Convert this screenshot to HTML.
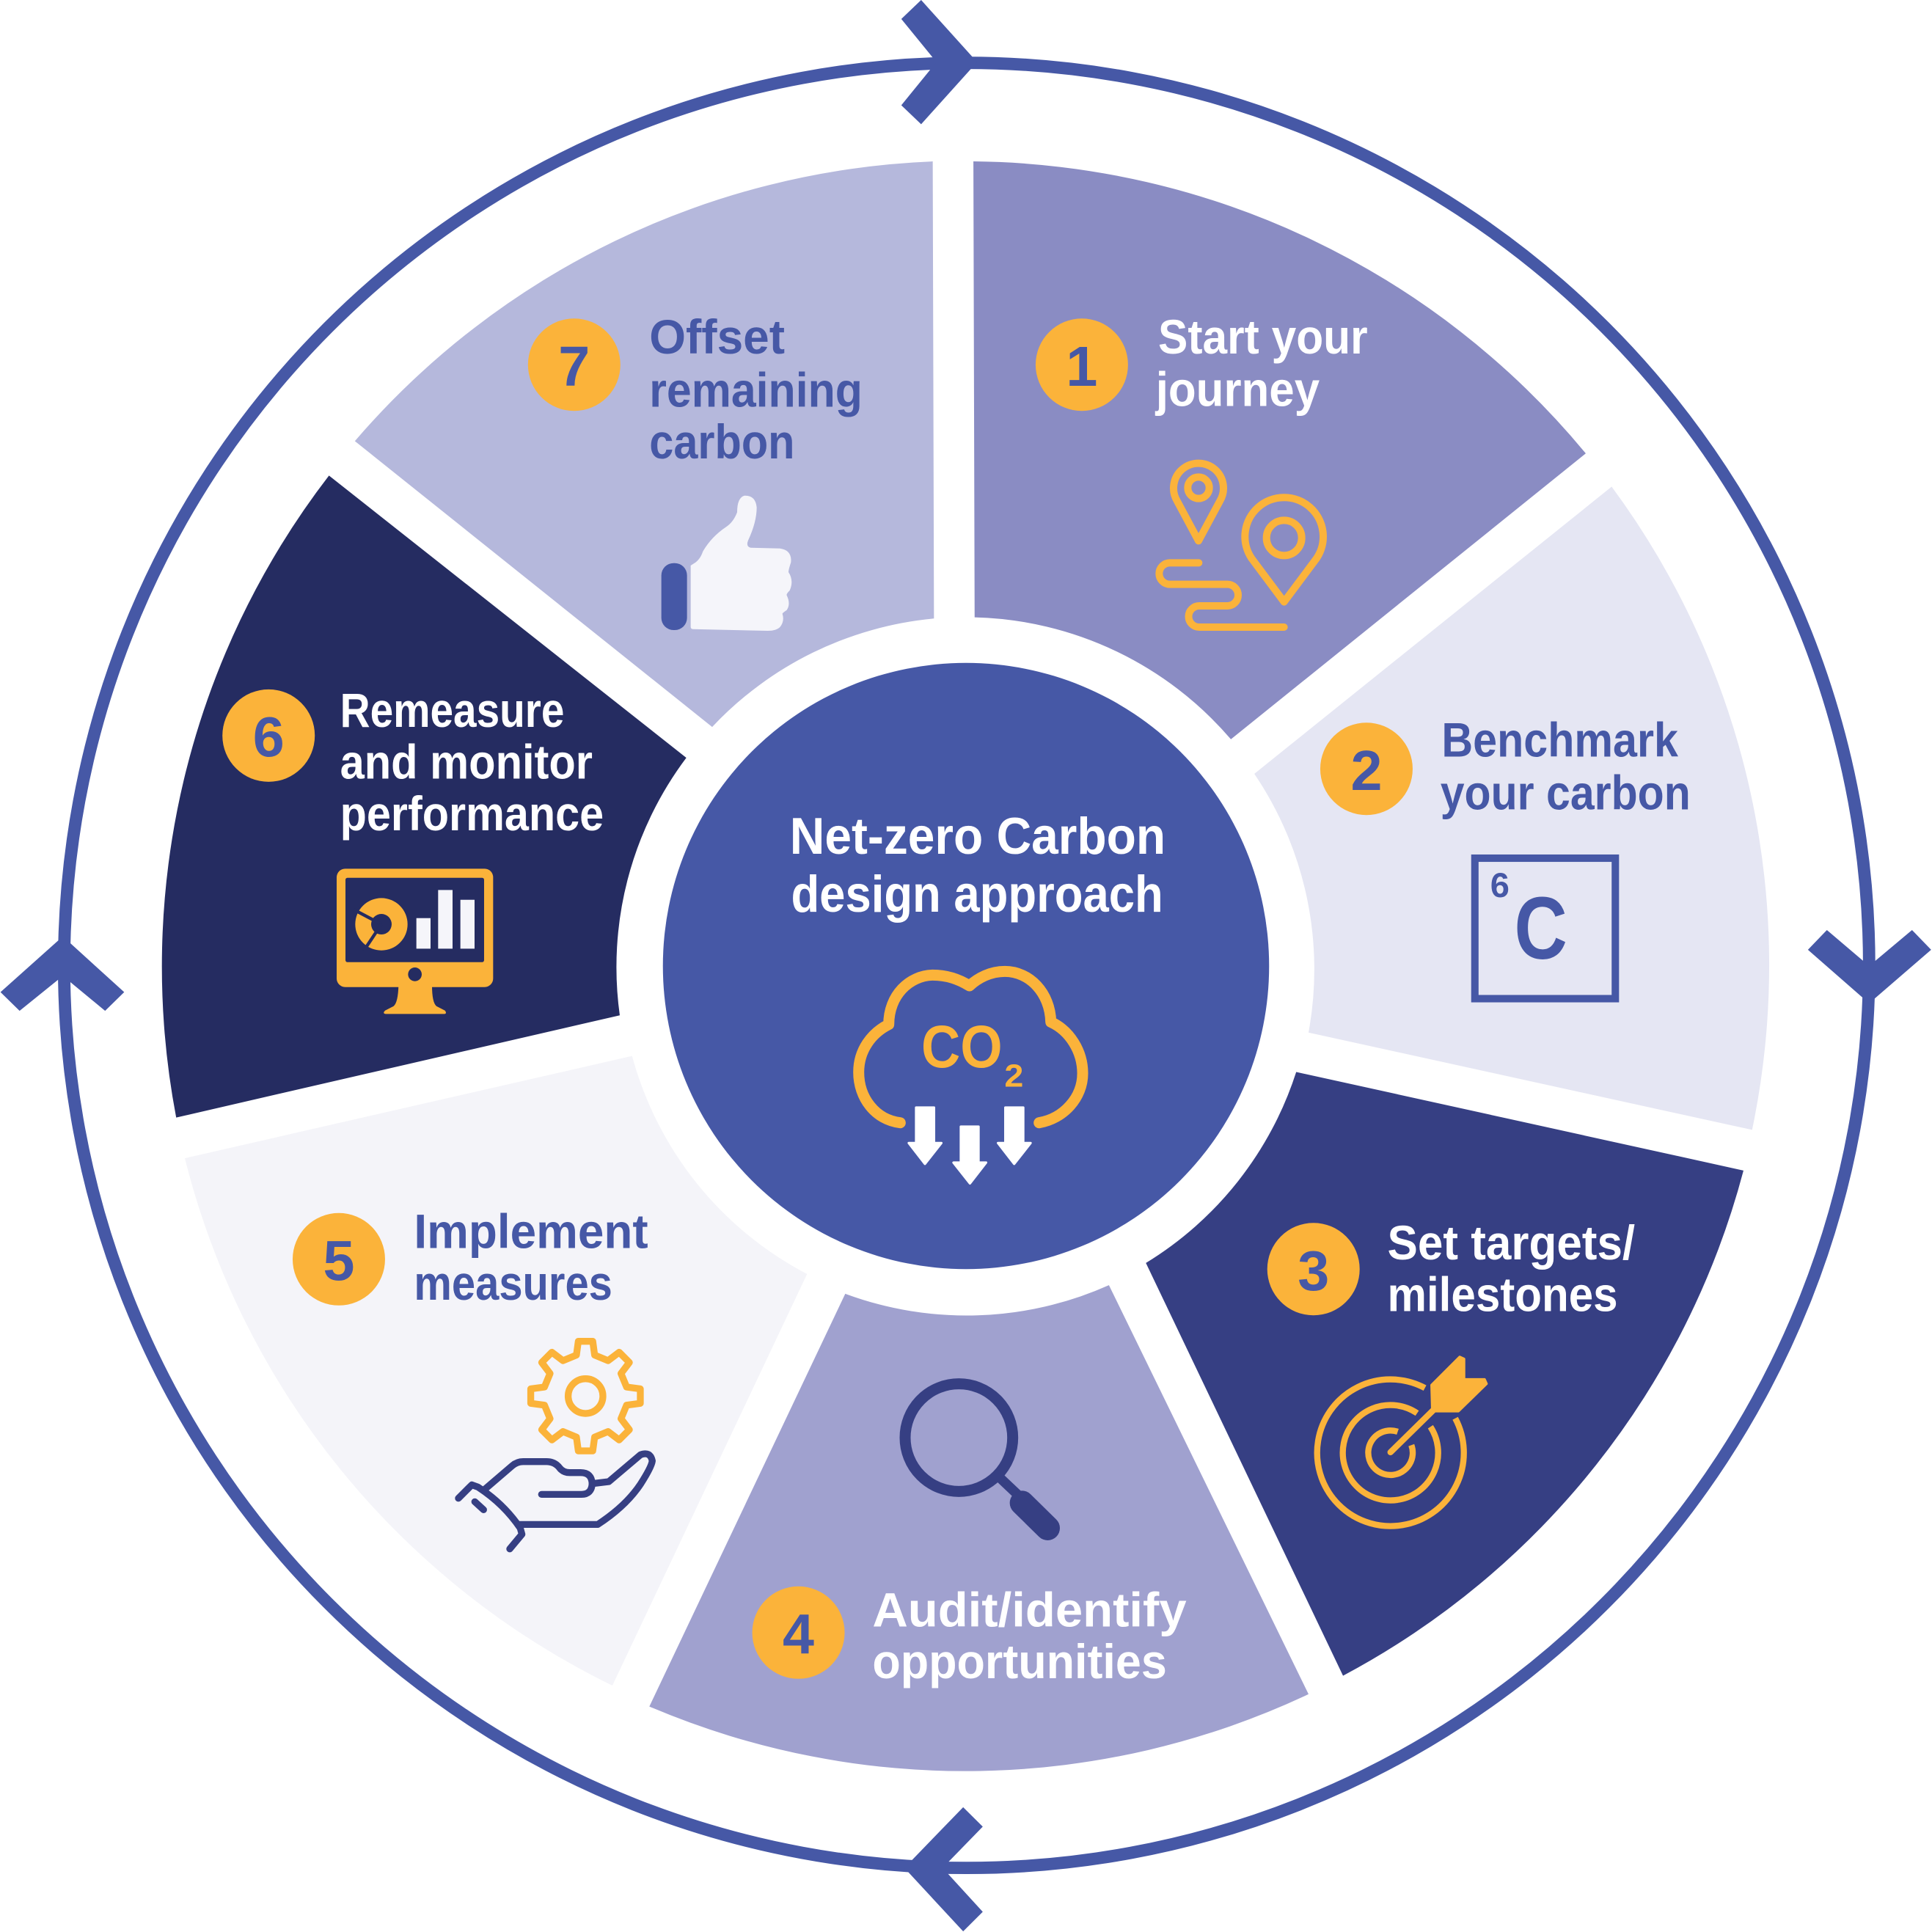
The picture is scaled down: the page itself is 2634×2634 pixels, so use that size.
<!DOCTYPE html>
<html>
<head>
<meta charset="utf-8">
<style>
  html, body { margin: 0; padding: 0; background: #ffffff; }
  svg { display: block; }
  .t { font-family: "Liberation Sans", "DejaVu Sans", sans-serif; font-weight: bold; }
</style>
</head>
<body>
<svg width="2634" height="2634" viewBox="0 0 1568 1568" xmlns="http://www.w3.org/2000/svg">
  <rect x="0" y="0" width="1568" height="1568" fill="#ffffff"/>

  <!-- outer ring -->
  <circle cx="784.5" cy="783.5" r="732.5" fill="none" stroke="#4658a6" stroke-width="10"/>

  <!-- arrows on ring -->
  <polygon points="747.6,0 793,50.4 747.6,100.8 731.5,85.4 760,50.4 731.5,15.4" fill="#4658a6"/>
  <polygon points="1482.7,754.8 1517,784 1551.8,754.8 1567.3,770.8 1517,814.3 1467.3,770.8" fill="#4658a6"/>
  <polygon points="781.7,1466.7 797.6,1482.5 765,1516 797.6,1551.6 781.7,1567.5 734,1516" fill="#4658a6"/>
  <polygon points="51,760 100.8,805.2 85.3,820.4 51,792 15.9,820.4 0.4,805.2" fill="#4658a6"/>

  <!-- segments -->
  <path d="M 790 131 A 653 653 0 0 1 1287 368 L 999 600 A 283 283 0 0 0 791 501 Z" fill="#8a8cc3"/>
  <path d="M 1308 395 A 653 653 0 0 1 1422 917 L 1062 838 A 283 283 0 0 0 1018 628 Z" fill="#e5e6f3"/>
  <path d="M 1415 950 A 653 653 0 0 1 1090 1360 L 930 1025 A 283 283 0 0 0 1052 870 Z" fill="#363f83"/>
  <path d="M 1062 1375 A 653 653 0 0 1 527 1385 L 686 1050 A 283 283 0 0 0 900 1043 Z" fill="#a0a1cf"/>
  <path d="M 497 1368 A 653 653 0 0 1 150 940 L 513 857 A 283 283 0 0 0 655 1034 Z" fill="#f4f4f9"/>
  <path d="M 143 907 A 653 653 0 0 1 267 386 L 557 615 A 283 283 0 0 0 503 824 Z" fill="#252c61"/>
  <path d="M 288 358 A 653 653 0 0 1 757 131 L 758 502 A 283 283 0 0 0 578 590 Z" fill="#b5b8dc"/>

  <!-- center circle -->
  <circle cx="784" cy="784" r="246" fill="#4658a6"/>

  <!-- number circles -->
  <g fill="#fbb33a">
    <circle cx="878" cy="296" r="37.5"/>
    <circle cx="1109" cy="624" r="37.5"/>
    <circle cx="1066" cy="1030" r="37.5"/>
    <circle cx="648" cy="1325" r="37.5"/>
    <circle cx="275" cy="1022" r="37.5"/>
    <circle cx="218" cy="597" r="37.5"/>
    <circle cx="466" cy="296" r="37.5"/>
  </g>
  <g class="t" fill="#4658a6" font-size="46" text-anchor="middle">
    <text x="878" y="313">1</text>
    <text x="1109" y="641">2</text>
    <text x="1066" y="1047">3</text>
    <text x="648" y="1342">4</text>
    <text x="275" y="1039">5</text>
    <text x="218" y="614">6</text>
    <text x="466" y="313">7</text>
  </g>

  <!-- segment labels -->
  <g class="t" font-size="39">
    <text x="940" y="287" fill="#ffffff" textLength="170" lengthAdjust="spacingAndGlyphs">Start your</text>
    <text x="938" y="329.5" fill="#ffffff" textLength="133" lengthAdjust="spacingAndGlyphs">journey</text>

    <text x="1170" y="614" fill="#4658a6" textLength="192" lengthAdjust="spacingAndGlyphs">Benchmark</text>
    <text x="1169" y="657" fill="#4658a6" textLength="203" lengthAdjust="spacingAndGlyphs">your carbon</text>

    <text x="1126" y="1022" fill="#ffffff" textLength="201" lengthAdjust="spacingAndGlyphs">Set targets/</text>
    <text x="1126" y="1064" fill="#ffffff" textLength="187" lengthAdjust="spacingAndGlyphs">milestones</text>

    <text x="708" y="1320" fill="#ffffff" textLength="255" lengthAdjust="spacingAndGlyphs">Audit/identify</text>
    <text x="708" y="1362" fill="#ffffff" textLength="239" lengthAdjust="spacingAndGlyphs">opportunities</text>

    <text x="336" y="1013" fill="#4658a6" textLength="190" lengthAdjust="spacingAndGlyphs">Implement</text>
    <text x="336" y="1055" fill="#4658a6" textLength="161" lengthAdjust="spacingAndGlyphs">measures</text>

    <text x="276" y="590" fill="#ffffff" textLength="182" lengthAdjust="spacingAndGlyphs">Remeasure</text>
    <text x="276" y="632" fill="#ffffff" textLength="205" lengthAdjust="spacingAndGlyphs">and monitor</text>
    <text x="276" y="674" fill="#ffffff" textLength="214" lengthAdjust="spacingAndGlyphs">performance</text>

    <text x="527" y="287" fill="#4658a6" textLength="110" lengthAdjust="spacingAndGlyphs">Offset</text>
    <text x="527" y="330" fill="#4658a6" textLength="173" lengthAdjust="spacingAndGlyphs">remaining</text>
    <text x="527" y="372" fill="#4658a6" textLength="118" lengthAdjust="spacingAndGlyphs">carbon</text>
  </g>

  <!-- center title -->
  <g class="t" font-size="42" fill="#ffffff">
    <text x="641" y="693" textLength="305" lengthAdjust="spacingAndGlyphs">Net-zero Carbon</text>
    <text x="642" y="740" textLength="302" lengthAdjust="spacingAndGlyphs">design approach</text>
  </g>

  <!-- seg 1 icon: pins -->
  <g transform="translate(916.75,238.12) scale(0.19843)" fill="none" stroke="#fbb33a" stroke-width="30" stroke-linecap="round" stroke-linejoin="round">
    <path d="M 282 1012 L 195 850 A 102 102 0 1 1 369 850 Z"/>
    <circle cx="282" cy="795" r="44"/>
    <path d="M 632 1262 L 500 1085 A 160 160 0 1 1 764 1085 Z"/>
    <circle cx="632" cy="1000" r="72"/>
    <path d="M 283 1102 L 165 1102 A 44 44 0 0 0 165 1190 L 400 1190 A 44 44 0 0 1 400 1278 L 285 1278 A 43.5 43.5 0 0 0 285 1365 L 632 1365"/>
  </g>

  <!-- seg 2 icon: element box -->
  <rect x="1197" y="696.5" width="114" height="114" fill="none" stroke="#4658a6" stroke-width="6"/>
  <text class="t" x="1229" y="778" font-size="72" fill="#4658a6" textLength="43" lengthAdjust="spacingAndGlyphs">C</text>
  <text class="t" x="1209.5" y="728" font-size="28" fill="#4658a6">6</text>

  <!-- seg 3 icon: target -->
  <g transform="translate(1053.7,1095.3) scale(0.19843)" fill="none" stroke="#fbb33a" stroke-width="25">
    <path d="M 641.9 281.2 A 300 300 0 1 1 517.8 157.1"/>
    <path d="M 540.5 315.8 A 195 195 0 1 1 486.0 260.3"/>
    <path d="M 462.5 390.9 A 91 91 0 1 1 406.6 336.0"/>
    <line x1="377" y1="420" x2="555" y2="245" stroke-linecap="round"/>
    <polygon points="545,145 660,30 678,38 678,122 762,122 770,140 655,252 548,252" fill="#fbb33a" stroke="#fbb33a" stroke-width="10" stroke-linejoin="round"/>
  </g>

  <!-- seg 4 icon: magnifier -->
  <g transform="translate(720.3,1113.2) scale(0.19843)" fill="none" stroke="#363f83">
    <circle cx="292" cy="270" r="220" stroke-width="45"/>
    <line x1="450" y1="425" x2="545" y2="515" stroke-width="40"/>
    <line x1="550" y1="537" x2="655" y2="640" stroke-width="100" stroke-linecap="round"/>
  </g>

  <!-- seg 5 icon: gear in hand -->
  <g transform="translate(363.1,1077.5) scale(0.19843)" fill="none" stroke-linecap="round" stroke-linejoin="round">
    <g stroke="#fbb33a" stroke-width="28">
      <polygon points="527.8,112.1 535.5,55.9 594.5,55.9 602.2,112.1 657.4,134.9 702.6,100.7 744.3,142.4 710.1,187.6 732.9,242.8 789.1,250.5 789.1,309.5 732.9,317.2 710.1,372.4 744.3,417.6 702.6,459.3 657.4,425.1 602.2,447.9 594.5,504.1 535.5,504.1 527.8,447.9 472.6,425.1 427.4,459.3 385.7,417.6 419.9,372.4 397.1,317.2 340.9,309.5 340.9,250.5 397.1,242.8 419.9,187.6 385.7,142.4 427.4,100.7 472.6,134.9"/>
      <circle cx="565" cy="280" r="71"/>
    </g>
    <g stroke="#363f83" stroke-width="28">
      <path d="M 45 698 L 100 643 L 125 652 Q 230 720 298 820 L 305 845 L 255 905"/>
      <path d="M 112 712 L 148 745"/>
      <path d="M 152 662 L 265 565 Q 285 548 310 548 L 405 548 Q 440 548 460 575 Q 475 593 500 593 L 545 593 Q 590 593 592 638 Q 590 682 548 682 L 385 682"/>
      <path d="M 592 638 L 660 630 L 790 520 Q 830 505 838 545 Q 835 570 790 640 Q 730 730 615 805 L 295 805"/>
    </g>
  </g>

  <!-- seg 6 icon: monitor -->
  <g transform="translate(264.9,699.5) scale(0.19843)">
    <rect x="42" y="28" width="640" height="484" rx="35" fill="#fbb33a"/>
    <rect x="78" y="65" width="567" height="345" rx="8" fill="#252c61"/>
    <path d="M 295 505 L 432 505 Q 432 575 450 590 L 485 608 Q 495 622 480 622 L 243 622 Q 228 620 240 608 L 275 590 Q 293 575 295 505 Z" fill="#fbb33a"/>
    <circle cx="362" cy="460" r="28" fill="#252c61"/>
    <circle cx="225" cy="255" r="107" fill="#fbb33a"/>
    <circle cx="225" cy="255" r="42" fill="#252c61"/>
    <line x1="225" y1="255" x2="110" y2="194.4" stroke="#252c61" stroke-width="13"/>
    <line x1="225" y1="255" x2="152.9" y2="363.2" stroke="#252c61" stroke-width="13"/>
    <rect x="368" y="230" width="58" height="125" fill="#f5f5fa"/>
    <rect x="457" y="115" width="59" height="240" fill="#f5f5fa"/>
    <rect x="548" y="155" width="58" height="200" fill="#f5f5fa"/>
  </g>

  <!-- seg 7 icon: thumbs up -->
  <g transform="translate(529.8,395.9) scale(0.19843)">
    <rect x="35" y="308" width="105" height="274" rx="50" fill="#4658a6"/>
    <path d="M 155 318 L 175 305 Q 195 290 205 260 Q 240 200 300 160 Q 330 140 345 100 Q 345 40 375 32 Q 420 30 425 80 Q 425 140 390 215 Q 380 240 400 245 L 520 248 Q 570 255 565 305 Q 555 335 555 345 Q 578 380 560 420 Q 545 435 548 440 Q 565 475 548 500 Q 530 512 530 515 Q 540 545 520 570 Q 505 585 470 585 L 165 578 Q 155 578 155 568 Z" fill="#f5f5fa"/>
  </g>

  <!-- center icon: cloud CO2 -->
  <g transform="translate(684.6,773.9) scale(0.19843)">
    <path d="M 232 692 C 130 680 62 590 62 485 C 62 395 115 325 185 290 C 185 170 270 90 365 88 C 430 88 480 110 515 132 C 550 100 600 73 660 73 C 760 73 845 160 848 280 C 925 315 978 400 978 490 C 978 590 900 675 800 692" fill="none" stroke="#fbb33a" stroke-width="45" stroke-linecap="round" stroke-linejoin="round"/>
    <text class="t" x="318" y="465" font-size="245" fill="#fbb33a" textLength="332" lengthAdjust="spacingAndGlyphs">CO</text>
    <text class="t" x="658" y="545" font-size="130" fill="#fbb33a" textLength="78" lengthAdjust="spacingAndGlyphs">2</text>
    <g fill="#ffffff" stroke="#ffffff" stroke-width="10" stroke-linejoin="round">
      <polygon points="297,630 370,630 370,775 400,775 333,860 267,775 297,775"/>
      <polygon points="480,708 552,708 552,855 583,855 517,940 450,855 480,855"/>
      <polygon points="662,630 735,630 735,775 765,775 698,860 632,775 662,775"/>
    </g>
  </g>
</svg>
</body>
</html>
